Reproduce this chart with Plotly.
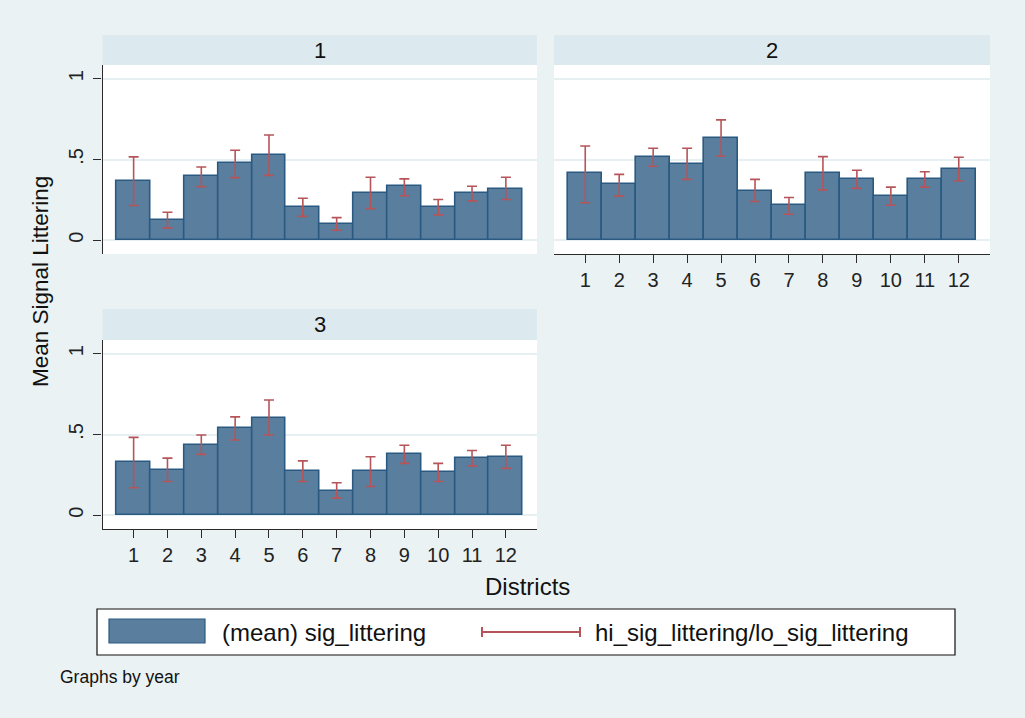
import plotly.graph_objects as go

# ---------------- data ----------------
districts = [1, 2, 3, 4, 5, 6, 7, 8, 9, 10, 11, 12]
tick_labels = ["1", "2", "3", "4", "5", "6", "7", "8", "9", "10", "11", "12"]
years = ["1", "2", "3"]

mean_y1 = [0.365, 0.124, 0.396, 0.476, 0.530, 0.204, 0.103, 0.293, 0.334, 0.204, 0.293, 0.315]
hi_y1 = [0.516, 0.173, 0.454, 0.557, 0.652, 0.260, 0.140, 0.390, 0.380, 0.252, 0.334, 0.390]
lo_y1 = [0.215, 0.077, 0.332, 0.388, 0.402, 0.148, 0.062, 0.196, 0.276, 0.157, 0.244, 0.252]

mean_y2 = [0.414, 0.346, 0.514, 0.474, 0.634, 0.304, 0.217, 0.414, 0.377, 0.273, 0.377, 0.441]
hi_y2 = [0.584, 0.408, 0.570, 0.570, 0.745, 0.377, 0.265, 0.518, 0.433, 0.329, 0.424, 0.514]
lo_y2 = [0.232, 0.273, 0.458, 0.377, 0.520, 0.240, 0.161, 0.312, 0.321, 0.217, 0.329, 0.368]

mean_y3 = [0.331, 0.281, 0.435, 0.538, 0.602, 0.275, 0.153, 0.275, 0.377, 0.265, 0.354, 0.362]
hi_y3 = [0.482, 0.354, 0.497, 0.609, 0.714, 0.337, 0.201, 0.362, 0.433, 0.321, 0.401, 0.433]
lo_y3 = [0.170, 0.209, 0.377, 0.466, 0.497, 0.209, 0.106, 0.178, 0.321, 0.209, 0.306, 0.290]

y_tickvals = [0, 0.5, 1]
y_ticktext = ["0", ".5", "1"]

# ---------------- style ----------------
W, H = 1025, 718
BG = "#EAF2F3"
STRIP = "#DCE9EE"
BAR = "#5A7E9E"
BAR_LINE = "#2A5A82"
ERR = "#B5555A"
AXIS = "#2b2b2b"
FONT = "Liberation Sans, Arial, sans-serif"


def px(x):
    return x / W


def py(y):
    return 1 - y / H


panels = [
    # (xaxis id, yaxis id, x0, x1, y0 (top), y1 (bottom), show_x, show_y)
    ("x", "y", 102.5, 537, 65, 254, False, True),
    ("x2", "y2", 554, 990, 65, 254, True, False),
    ("x3", "y3", 102.5, 537, 340, 529, True, True),
]
strips = [(102.5, 537, 35, 65), (554, 990, 35, 65), (102.5, 537, 309, 340)]
series = [(mean_y1, hi_y1, lo_y1), (mean_y2, hi_y2, lo_y2), (mean_y3, hi_y3, lo_y3)]

fig = go.Figure()

for (xa, ya, *_), (m, hi, lo) in zip(panels, series):
    fig.add_trace(go.Bar(
        x=districts, y=m, xaxis=xa, yaxis=ya, width=1,
        marker=dict(color=BAR, line=dict(color=BAR_LINE, width=1.6)),
        error_y=dict(type="data", symmetric=False,
                     array=[h - v for h, v in zip(hi, m)],
                     arrayminus=[v - l for v, l in zip(m, lo)],
                     color=ERR, thickness=1.6, width=5),
        showlegend=False, hoverinfo="skip",
    ))

layout = dict(
    width=W, height=H, margin=dict(l=0, r=0, t=0, b=0),
    paper_bgcolor=BG, plot_bgcolor="white",
    font=dict(family=FONT, color="#111111"),
    showlegend=False, bargap=0,
)

for i, (xa, ya, x0, x1, y0, y1, show_x, show_y) in enumerate(panels):
    xkey = "xaxis" if xa == "x" else "xaxis" + xa[1:]
    ykey = "yaxis" if ya == "y" else "yaxis" + ya[1:]
    layout[xkey] = dict(
        domain=[px(x0), px(x1)], anchor=ya, range=[0.08, 12.92],
        tickvals=districts, ticktext=tick_labels,
        showgrid=False, zeroline=False,
        showline=show_x, linecolor=AXIS, linewidth=1.3,
        ticks="outside" if show_x else "", ticklen=8, tickwidth=1.3, tickcolor=AXIS,
        showticklabels=show_x, tickfont=dict(size=20, color="#222222"),
    )
    layout[ykey] = dict(
        domain=[py(y1), py(y0)], anchor=xa, range=[-0.085, 1.085],
        tickvals=y_tickvals, ticktext=y_ticktext,
        showgrid=True, gridcolor="#E6EFF1", gridwidth=1.5, zeroline=False,
        showline=show_y, linecolor=AXIS, linewidth=1.3,
        ticks="outside" if show_y else "", ticklen=8, tickwidth=1.3, tickcolor=AXIS,
        showticklabels=show_y, tickangle=-90, ticklabelstandoff=2,
        tickfont=dict(size=20, color="#222222"),
    )

shapes = []
annotations = []
for (x0, x1, y0, y1), label in zip(strips, years):
    shapes.append(dict(type="rect", xref="paper", yref="paper",
                       x0=px(x0), x1=px(x1), y0=py(y1), y1=py(y0),
                       fillcolor=STRIP, line=dict(width=0), layer="below"))
    annotations.append(dict(text=label, xref="paper", yref="paper",
                            x=px((x0 + x1) / 2), y=py((y0 + y1) / 2),
                            showarrow=False, font=dict(size=22, color="#111111"),
                            xanchor="center", yanchor="middle"))

# axis titles
annotations.append(dict(text="Mean Signal Littering", xref="paper", yref="paper",
                        x=px(40), y=py(282), textangle=-90, showarrow=False,
                        font=dict(size=22.5, color="#111111"),
                        xanchor="center", yanchor="middle"))
annotations.append(dict(text="Districts", xref="paper", yref="paper",
                        x=px(527), y=py(586), showarrow=False,
                        font=dict(size=24, color="#111111"),
                        xanchor="center", yanchor="middle"))

# legend box (drawn)
shapes.append(dict(type="rect", xref="paper", yref="paper",
                   x0=px(97), x1=px(955), y0=py(655), y1=py(609),
                   fillcolor="white", line=dict(color="#111111", width=1.2)))
shapes.append(dict(type="rect", xref="paper", yref="paper",
                   x0=px(109), x1=px(205), y0=py(643), y1=py(619),
                   fillcolor=BAR, line=dict(color=BAR_LINE, width=1.2)))
shapes.append(dict(type="line", xref="paper", yref="paper",
                   x0=px(482), x1=px(580), y0=py(632), y1=py(632),
                   line=dict(color=ERR, width=2)))
for xc in (482, 580):
    shapes.append(dict(type="line", xref="paper", yref="paper",
                       x0=px(xc), x1=px(xc), y0=py(627), y1=py(637),
                       line=dict(color=ERR, width=2)))
annotations.append(dict(text="(mean) sig_littering", xref="paper", yref="paper",
                        x=px(220), y=py(632), showarrow=False,
                        font=dict(size=24, color="#111111"),
                        xanchor="left", yanchor="middle"))
annotations.append(dict(text="hi_sig_littering/lo_sig_littering", xref="paper", yref="paper",
                        x=px(593), y=py(632), showarrow=False,
                        font=dict(size=24, color="#111111"),
                        xanchor="left", yanchor="middle"))
annotations.append(dict(text="Graphs by year", xref="paper", yref="paper",
                        x=px(58), y=py(677), showarrow=False,
                        font=dict(size=17.5, color="#111111"),
                        xanchor="left", yanchor="middle"))

layout["shapes"] = shapes
layout["annotations"] = annotations
fig.update_layout(**layout)

fig.write_html("out.html", config={"displayModeBar": False},
               post_script="document.body.style.margin='0px';document.body.style.overflow='hidden';")
